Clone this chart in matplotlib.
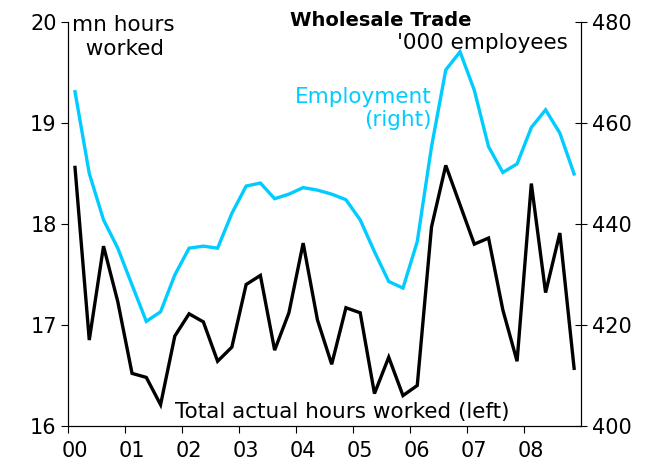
import numpy as np
import matplotlib
matplotlib.use("Agg")
import matplotlib.pyplot as plt
import matplotlib.transforms as mtransforms

# quarterly data 2000Q1 - 2008Q4
hours = [18.56, 16.85, 17.78, 17.23, 16.52, 16.48, 16.21, 16.89, 17.11, 17.03, 16.64, 16.78,
         17.40, 17.49, 16.75, 17.12, 17.81, 17.05, 16.61, 17.17, 17.12, 16.32, 16.68, 16.30,
         16.40, 17.97, 18.58, 18.19, 17.80, 17.86, 17.15, 16.64, 18.40, 17.32, 17.91, 16.57]
employment = [466.2, 450.0, 440.8, 435.2, 427.9, 420.7, 422.6, 429.9, 435.2, 435.6, 435.2, 442.1,
              447.5, 448.1, 445.0, 445.9, 447.2, 446.7, 445.9, 444.8, 440.8, 434.5, 428.6, 427.3,
              436.5, 455.3, 470.5, 474.1, 466.5, 455.3, 450.2, 451.9, 459.1, 462.6, 458.0, 449.9]
year_labels = ["00", "01", "02", "03", "04", "05", "06", "07", "08"]

x = (np.arange(len(hours)) + 0.5) / 4.0
cyan = "#00CCFF"
fs = 15.5
tfs = 15

fig = plt.figure(figsize=(6.59, 4.68), dpi=100)
ax = fig.add_axes([0.103, 0.090, 0.779, 0.863])
ax2 = ax.twinx()

ax.plot(x, hours, color="black", lw=2.4, solid_joinstyle="miter")
ax2.plot(x, employment, color=cyan, lw=2.4, solid_joinstyle="miter")

ax.set_xlim(0, 9)
ax.set_ylim(16, 20)
ax2.set_ylim(400, 480)
ax.set_yticks([16, 17, 18, 19, 20])
ax2.set_yticks([400, 420, 440, 460, 480])
ax.set_xticks(range(len(year_labels)))
ax.set_xticklabels(year_labels)

for a in (ax, ax2):
    a.spines["top"].set_visible(False)
    for s in a.spines.values():
        s.set_linewidth(0.8)
ax.tick_params(axis="y", direction="out", length=5, labelsize=tfs, pad=3)
ax.tick_params(axis="x", direction="out", length=5, labelsize=tfs, pad=6)
ax2.tick_params(axis="y", direction="inout", length=9, labelsize=tfs, pad=3)

# year labels sit a little right of their ticks
offset = mtransforms.ScaledTranslation(7 / 100, 0, fig.dpi_scale_trans)
for lab in ax.get_xticklabels():
    lab.set_transform(lab.get_transform() + offset)

fig.text(0.578, 0.977, "Wholesale Trade", fontsize=14, fontweight="bold", ha="center", va="top")
fig.text(0.862, 0.930, "'000 employees", fontsize=fs, ha="right", va="top")
fig.text(0.110, 0.968, "mn hours\n  worked", fontsize=fs, ha="left", va="top", linespacing=1.25)
fig.text(0.655, 0.815, "Employment\n(right)", fontsize=fs, ha="right", va="top", color=cyan,
         multialignment="right", linespacing=1.2)
fig.text(0.265, 0.098, "Total actual hours worked (left)", fontsize=fs, ha="left", va="bottom")

fig.savefig("out.png", dpi=100)
